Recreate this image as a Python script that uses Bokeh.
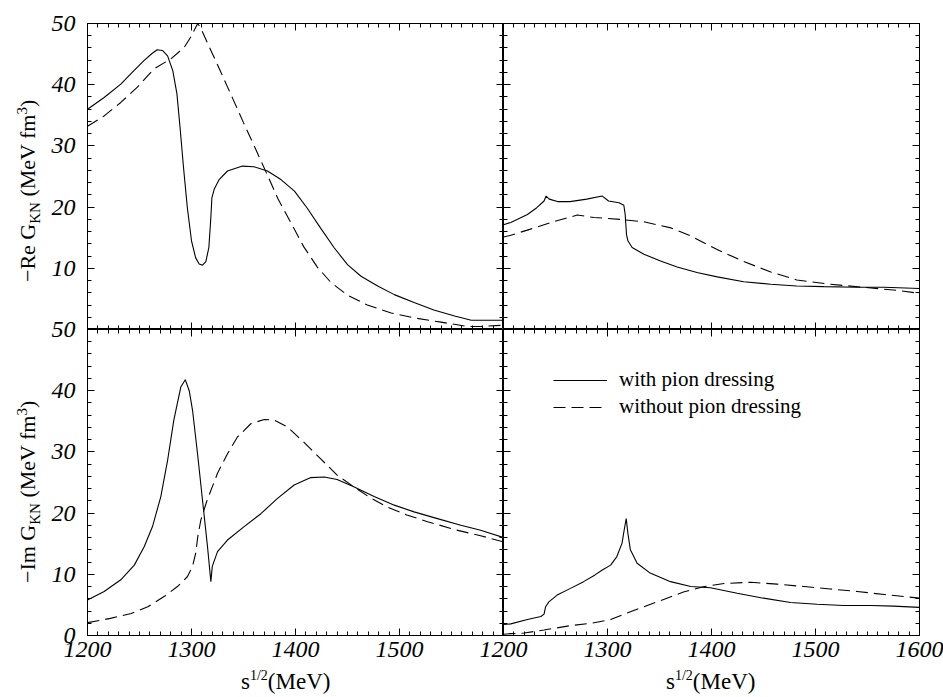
from bokeh.plotting import figure
from bokeh.models import (LinearAxis, SingleIntervalTicker, Range1d, Div,
                          Legend, LegendItem, Grid)
from bokeh.layouts import row, column
from bokeh.embed import file_html
from bokeh.resources import INLINE

# ---------------- data ----------------
# top-left: -Re G, left block
re_L_with_x = [1200, 1216, 1232, 1243, 1254, 1262, 1267, 1272, 1277, 1282, 1286, 1289,
               1292.3, 1296, 1300, 1304, 1307.4, 1310.6, 1313.8, 1316.7, 1318.6, 1319.6,
               1321.8, 1326.6, 1334.6, 1349, 1360, 1373, 1386, 1399, 1411, 1424, 1437,
               1450, 1463, 1479, 1495, 1514, 1533, 1553, 1569, 1600]
re_L_with_y = [36.0, 37.9, 40.1, 42.0, 43.9, 45.1, 45.7, 45.6, 44.7, 42.3, 38.5, 33.0,
               26.5, 19.9, 14.5, 11.7, 10.7, 10.5, 11.1, 13.4, 18.3, 21.5,
               22.9, 24.5, 25.9, 26.7, 26.6, 25.9, 24.5, 22.6, 19.9, 16.6, 13.4,
               10.6, 8.7, 7.1, 5.7, 4.4, 3.2, 2.2, 1.5, 1.5]
re_L_wo_x = [1200, 1216, 1232, 1248, 1264, 1280, 1293, 1299, 1302.6, 1306, 1309, 1320,
             1330, 1340, 1350, 1360, 1371.5, 1383, 1396, 1408, 1421, 1434, 1450, 1469,
             1492, 1514, 1540, 1565, 1578, 1600]
re_L_wo_y = [33.2, 34.9, 37.1, 39.6, 42.6, 44.2, 46.1, 47.7, 48.9, 50.0, 49.2, 45.1,
             41.4, 37.6, 33.8, 30.1, 25.8, 21.4, 17.3, 13.5, 10.2, 7.7, 5.6, 4.0,
             2.7, 1.9, 1.2, 0.5, 0.5, 0.7]

# top-right: -Re G, right block
re_R_with_x = [1200, 1207, 1223, 1232, 1239, 1241, 1244, 1252, 1264, 1280, 1295, 1301,
               1311, 1315.7, 1317, 1318.3, 1319.6, 1323.7, 1335, 1351, 1367, 1386, 1405.5,
               1431, 1457, 1482, 1508, 1540, 1566, 1600]
re_R_with_y = [17.1, 17.5, 18.8, 19.9, 21.0, 21.8, 21.3, 20.9, 20.9, 21.3, 21.8, 21.0,
               20.7, 20.3, 18.8, 15.5, 14.5, 13.4, 12.3, 11.2, 10.2, 9.3, 8.6,
               7.8, 7.4, 7.1, 7.0, 6.9, 6.9, 6.7]
re_R_wo_x = [1200, 1207, 1226, 1248, 1271, 1287, 1312, 1335, 1361, 1380, 1405, 1431,
             1457, 1482, 1514, 1546, 1578, 1600]
re_R_wo_y = [15.1, 15.4, 16.4, 17.6, 18.7, 18.3, 18.0, 17.6, 16.6, 15.3, 13.1, 11.1,
             9.4, 8.1, 7.4, 6.9, 6.4, 5.9]

# bottom-left: -Im G, left block
im_L_with_x = [1200, 1216, 1232, 1245, 1254.5, 1262.5, 1270.5, 1277, 1283, 1289.7, 1294,
               1297.8, 1301, 1305.8, 1310.6, 1315.4, 1318.6, 1320, 1325, 1334.6, 1350.6,
               1366.7, 1382.7, 1398.7, 1414.7, 1427.6, 1440, 1456, 1475.6, 1495, 1514,
               1536.5, 1559, 1578, 1600]
im_L_with_y = [5.8, 7.2, 9.1, 11.5, 14.5, 17.8, 22.7, 28.6, 35.2, 40.6, 41.8,
               40.0, 36.8, 29.7, 22.1, 14.5, 8.8, 11.3, 13.7, 15.6, 17.8,
               19.9, 22.4, 24.6, 25.8, 25.9, 25.5, 24.3, 22.7, 21.3, 20.2,
               19.1, 18.0, 17.2, 16.0]
im_L_wo_x = [1200, 1222, 1242, 1258, 1274, 1286.5, 1296, 1301, 1304, 1306, 1309, 1315,
             1325, 1334.6, 1344, 1357, 1370, 1379.5, 1392, 1408, 1424, 1440, 1456, 1472,
             1488, 1507, 1527, 1553, 1578, 1600]
im_L_wo_y = [2.1, 2.8, 3.6, 4.7, 6.4, 8.0, 9.6, 11.3, 13.4, 16.1, 18.9, 22.1,
             26.5, 29.7, 32.4, 34.6, 35.3, 35.2, 34.1, 31.6, 28.9, 26.2, 24.3, 22.5,
             21.0, 19.7, 18.6, 17.3, 16.3, 15.3]

# bottom-right: -Im G, right block
im_R_with_x = [1200, 1207, 1223, 1236, 1239, 1240.5, 1243.6, 1251.6, 1264.4, 1277, 1288,
               1295, 1303, 1309, 1314, 1316, 1318, 1319.6, 1322, 1328.5, 1341, 1360.6,
               1380, 1399, 1424.7, 1450, 1476, 1501.6, 1527, 1553, 1575, 1600]
im_R_with_y = [1.8, 1.9, 2.6, 3.1, 3.5, 4.7, 5.5, 6.6, 7.7, 8.8, 9.9,
               10.7, 11.5, 12.9, 15.1, 17.2, 19.1, 16.7, 14.0, 11.8, 10.2, 8.8,
               8.0, 7.8, 6.9, 6.1, 5.4, 5.1, 4.9, 4.9, 4.8, 4.6]
im_R_wo_x = [1200, 1207, 1220, 1239, 1264, 1284, 1303, 1316, 1335, 1354, 1373, 1393,
             1412, 1437.5, 1463, 1489, 1514, 1540, 1566, 1600]
im_R_wo_y = [0.2, 0.3, 0.4, 0.9, 1.6, 2.0, 2.6, 3.5, 4.7, 5.9, 7.1, 8.0,
             8.5, 8.7, 8.4, 8.0, 7.6, 7.2, 6.7, 6.1]

x_ticks_interval = 100
y_ticks_interval = 10
legend_labels = ["with pion dressing", "without pion dressing"]
ylabel_heads = ["\u2212Re G", "\u2212Im G"]

SERIF = "Liberation Serif"
DASH = "12 6"
OVL_Y = 16   # overlap of the lower row onto the upper row (room for the "50" label)
OVL_X = 24   # overlap of the right column onto the left column (room for "1200")


def make_panel(bl, br, bt, bb, margin=(0, 0, 0, 0), transparent=False):
    p = figure(frame_width=416, frame_height=306,
               x_range=Range1d(1200, 1600), y_range=Range1d(0, 50),
               x_axis_location=None, y_axis_location=None,
               toolbar_location=None, output_backend="svg",
               min_border_left=bl, min_border_right=br,
               min_border_top=bt, min_border_bottom=bb,
               background_fill_color="white", border_fill_color="white",
               margin=margin)
    if transparent:
        p.border_fill_alpha = 0
    p.outline_line_color = "black"
    p.outline_line_width = 1
    for g in p.select(type=Grid):
        g.visible = False
    return p


def add_axes(p, labelled, overrides=None):
    for side in ["below", "above", "left", "right"]:
        if side in ("below", "above"):
            ticker = SingleIntervalTicker(interval=x_ticks_interval, num_minor_ticks=10)
        else:
            ticker = SingleIntervalTicker(interval=y_ticks_interval, num_minor_ticks=5)
        ax = LinearAxis(ticker=ticker)
        ax.major_tick_in = 7
        ax.major_tick_out = 0
        ax.minor_tick_in = 4
        ax.minor_tick_out = 0
        ax.axis_line_color = "black"
        ax.major_tick_line_color = "black"
        ax.minor_tick_line_color = "black"
        if side in labelled:
            ax.major_label_text_font = SERIF
            ax.major_label_text_font_style = "italic"
            ax.major_label_text_font_size = "24px"
            ax.major_label_text_color = "black"
            ax.major_label_standoff = 6 if side == "below" else 12
            if overrides and side in overrides:
                ax.major_label_overrides = overrides[side]
        else:
            ax.major_label_text_color = None
            ax.major_label_text_font_size = "0px"
            ax.major_label_standoff = 0
        p.add_layout(ax, side)


tl = make_panel(42, 0, 23, 0)
tr = make_panel(0, 24, 23, 0)
bl = make_panel(42, 0, OVL_Y, 35, margin=(-OVL_Y, 0, 0, 0), transparent=True)
br = make_panel(OVL_X, 24, OVL_Y, 35, margin=(-OVL_Y, 0, 0, -OVL_X), transparent=True)

add_axes(tl, ["left"], {"left": {0: ""}})
add_axes(tr, [])
add_axes(bl, ["left", "below"], {"below": {1600: ""}})
add_axes(br, ["below"])

kw = dict(line_color="black", line_width=1.1)
tl.line(re_L_with_x, re_L_with_y, **kw)
tl.line(re_L_wo_x, re_L_wo_y, line_dash=DASH, **kw)
tr.line(re_R_with_x, re_R_with_y, **kw)
tr.line(re_R_wo_x, re_R_wo_y, line_dash=DASH, **kw)
bl.line(im_L_with_x, im_L_with_y, **kw)
bl.line(im_L_wo_x, im_L_wo_y, line_dash=DASH, **kw)
r_with = br.line(im_R_with_x, im_R_with_y, **kw)
r_wo = br.line(im_R_wo_x, im_R_wo_y, line_dash=DASH, **kw)

legend = Legend(items=[LegendItem(label=legend_labels[0], renderers=[r_with]),
                       LegendItem(label=legend_labels[1], renderers=[r_wo])],
                location=(50, 216), border_line_color=None,
                background_fill_alpha=0, label_text_font=SERIF,
                label_text_font_size="21px", label_text_color="black",
                glyph_width=54, glyph_height=20, label_standoff=12,
                padding=0, spacing=2, margin=0)
br.add_layout(legend)

panels = column(row(tl, tr, spacing=0), row(bl, br, spacing=0), spacing=0)

# ---------------- axis titles as real HTML text ----------------
FONT_CSS = "font-family:'Liberation Serif',serif;color:black;white-space:nowrap;line-height:1;"
SMALL = "font-size:15px;line-height:0;"


def ylabel_div(head, height, start_y):
    html = (f'<div style="position:relative;width:45px;height:{height}px;">'
            f'<div style="position:absolute;left:17px;top:{start_y}px;'
            f'transform:rotate(-90deg);transform-origin:0 0;{FONT_CSS}font-size:22px;">'
            f'{head}<sub style="{SMALL}">KN</sub> (MeV fm<sup style="{SMALL}">3</sup>)'
            f'</div></div>')
    return Div(text=html, width=45, height=height, margin=0)


def xlabel_div(lefts, width, height):
    inner = "".join(
        f'<div style="position:absolute;left:{lx}px;top:0px;{FONT_CSS}font-size:23px;">'
        f's<sup style="font-size:14px;line-height:0;">1/2</sup>(MeV)</div>'
        for lx in lefts)
    html = f'<div style="position:relative;width:{width}px;height:{height}px;">{inner}</div>'
    return Div(text=html, width=width, height=height, margin=0)


y_top = ylabel_div(ylabel_heads[0], 329, 282)
y_bot = ylabel_div(ylabel_heads[1], 368, 254)
x_row = xlabel_div([196, 621], 898, 27)

page = row(column(y_top, y_bot, spacing=0), column(panels, x_row, spacing=0), spacing=0)

open("out.html", "w").write(file_html(page, INLINE))
